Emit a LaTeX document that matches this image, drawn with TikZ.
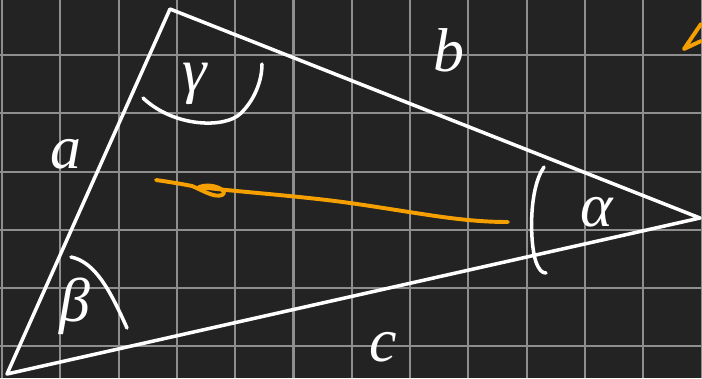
\documentclass[tikz,border=0pt]{standalone}
\usepackage{fontspec}
\setmainfont{Liberation Serif}
\usepackage{xcolor}
\usepackage{tikz}
\usetikzlibrary{arrows.meta,positioning,calc}
\definecolor{boardbg}{HTML}{232323}
\definecolor{boardgrid}{HTML}{8E8E8E}
\definecolor{chalk}{HTML}{FFFFFF}
\definecolor{marker}{HTML}{F5A000}

\tikzset{
  chalkline/.style={draw=chalk,line width=2.5pt,line cap=round,line join=round},
  markerline/.style={draw=marker,line width=2.8pt,line cap=round,line join=round},
  handlbl/.style={text=chalk,inner sep=0pt,font=\fontsize{44}{44}\selectfont\itshape}
}

\begin{document}
\begin{tikzpicture}[x=0.025cm,y=-0.025cm]
      \fill[boardbg] (0,0) rectangle (702,378);
      \useasboundingbox (0,0) rectangle (702,378);
      \foreach \k in {0,...,12} {
        \draw[boardgrid,line width=1.5pt] ({2+58.3*\k},0) -- ({2+58.3*\k},378);
      }
      \foreach \k in {1,...,6} {
        \draw[boardgrid,line width=1.5pt] (0,{-3+58.2*\k}) -- (702,{-3+58.2*\k});
      }
      \coordinate (vb) at (7,374);
      \coordinate (vg) at (170,9);
      \coordinate (va) at (700,218);
      \draw[chalkline] (vb) -- (vg) -- (va) -- cycle;
      \node[handlbl] (lbla) at (66,154) {a};
      \node[handlbl] (lblb) at (449,50) {b};
      \node[handlbl] (lblc) at (383,347) {c};
      \node[handlbl] (lblgamma) at (195,84) {γ};
      \node[handlbl] (lblbeta) at (75,306) {β};
      \node[handlbl] (lblalpha) at (597,212) {α};
      \coordinate (gs) at (143,98);
      \coordinate (ge) at (262,64);
      \draw[chalkline] (gs) .. controls (175,128) and (225,128) .. (240,114) .. controls (255,100) and (262,80) .. (ge);
      \coordinate (bs) at (71,257);
      \coordinate (be) at (127,328);
      \draw[chalkline] (bs) .. controls (95,262) and (110,290) .. (be);
      \coordinate (as) at (544,167);
      \coordinate (ae) at (546,273);
      \draw[chalkline] (as) .. controls (528,190) and (530,245) .. (536,262) .. controls (539,270) and (542,273) .. (ae);
      \coordinate (os) at (156,180);
      \coordinate (oe) at (508,222);
      \draw[markerline] (os) .. controls (170,182) and (182,184) .. (192,186)
        .. controls (202,190) and (214,198) .. (222,195)
        .. controls (230,191) and (212,182) .. (199,187)
        .. controls (240,192) and (300,196) .. (350,203)
        .. controls (420,213) and (460,222) .. (oe);
      \coordinate (ms) at (701,24);
      \coordinate (me) at (701,41);
      \draw[markerline] (ms) -- (684,49) -- (me);
    \end{tikzpicture}
\end{document}
